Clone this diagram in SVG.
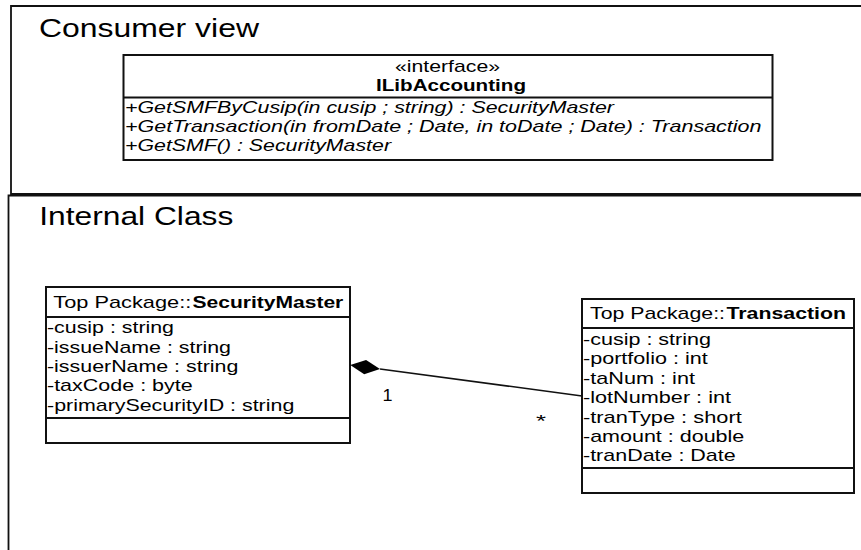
<svg xmlns="http://www.w3.org/2000/svg" width="861" height="550" viewBox="0 0 861 550">
  <style>
    .frame { fill: none; stroke: #111; stroke-width: 1.8; }
    .box { fill: #fff; stroke: #111; stroke-width: 2; }
    .div { stroke: #111; stroke-width: 2; }
    text { font-family: "Liberation Sans", Arial, sans-serif; fill: #000; }
    .title { font-size: 25.5px; }
    .hdr { font-size: 17px; }
    .attr { font-size: 17px; }
    .op { font-size: 16.5px; font-style: italic; }
    .b { font-weight: bold; }
    .mult { font-size: 16.5px; }
    .conn { fill: none; stroke: #111; stroke-width: 1.5; }
  </style>
  <defs>
    <!-- filled diamond for composition end -->
    <marker id="composite" markerUnits="userSpaceOnUse" markerWidth="31" markerHeight="17" viewBox="0 0 31 17" refX="0.5" refY="8" orient="auto">
      <path d="M0.5,8 L15.5,0.8 L30.5,8 L15.5,15.2 Z" fill="#000"/>
    </marker>
  </defs>

  <!-- package frames -->
  <g id="consumer-view">
    <path class="frame" d="M870,6 H11 V194 H870"/>
    <text class="title" x="39" y="36.5" textLength="220" lengthAdjust="spacingAndGlyphs">Consumer view</text>
  </g>
  <g id="internal-class">
    <path class="frame" d="M870,195.5 H8.5 V560"/>
    <text class="title" x="39.3" y="225" textLength="194" lengthAdjust="spacingAndGlyphs">Internal Class</text>
  </g>

  <!-- interface -->
  <g id="ILibAccounting">
    <rect class="box" x="123.5" y="55" width="649" height="105"/>
    <line class="div" x1="123.5" y1="97.5" x2="772.5" y2="97.5"/>
    <text class="hdr" x="395" y="72" textLength="105" lengthAdjust="spacingAndGlyphs">«interface»</text>
    <text class="hdr b" x="376" y="90.5" textLength="150" lengthAdjust="spacingAndGlyphs">ILibAccounting</text>
    <text class="op" x="125" y="112.5" textLength="489" lengthAdjust="spacingAndGlyphs">+GetSMFByCusip(in cusip ; string) : SecurityMaster</text>
    <text class="op" x="125" y="131.5" textLength="636.5" lengthAdjust="spacingAndGlyphs">+GetTransaction(in fromDate ; Date, in toDate ; Date) : Transaction</text>
    <text class="op" x="125" y="150.5" textLength="266" lengthAdjust="spacingAndGlyphs">+GetSMF() : SecurityMaster</text>
  </g>

  <!-- SecurityMaster class -->
  <g id="SecurityMaster">
    <rect class="box" x="46" y="287" width="304" height="156"/>
    <line class="div" x1="46" y1="317" x2="350" y2="317"/>
    <line class="div" x1="46" y1="418" x2="350" y2="418"/>
    <text class="hdr" x="53.3" y="307.5" textLength="138" lengthAdjust="spacingAndGlyphs">Top Package::</text>
    <text class="hdr b" x="192.5" y="307.5" textLength="150.8" lengthAdjust="spacingAndGlyphs">SecurityMaster</text>
    <text class="attr" x="47" y="332.7" textLength="127" lengthAdjust="spacingAndGlyphs">-cusip : string</text>
    <text class="attr" x="47" y="352.7" textLength="184" lengthAdjust="spacingAndGlyphs">-issueName : string</text>
    <text class="attr" x="47" y="372" textLength="191.3" lengthAdjust="spacingAndGlyphs">-issuerName : string</text>
    <text class="attr" x="47" y="391.3" textLength="145.7" lengthAdjust="spacingAndGlyphs">-taxCode : byte</text>
    <text class="attr" x="47" y="410.7" textLength="247.3" lengthAdjust="spacingAndGlyphs">-primarySecurityID : string</text>
  </g>

  <!-- Transaction class -->
  <g id="Transaction">
    <rect class="box" x="582" y="299" width="272" height="194"/>
    <line class="div" x1="582" y1="328" x2="854" y2="328"/>
    <line class="div" x1="582" y1="468" x2="854" y2="468"/>
    <text class="hdr" x="590" y="319" textLength="135" lengthAdjust="spacingAndGlyphs">Top Package::</text>
    <text class="hdr b" x="726.5" y="319" textLength="119.5" lengthAdjust="spacingAndGlyphs">Transaction</text>
    <text class="attr" x="583" y="345" textLength="128" lengthAdjust="spacingAndGlyphs">-cusip : string</text>
    <text class="attr" x="583" y="364.3" textLength="124.7" lengthAdjust="spacingAndGlyphs">-portfolio : int</text>
    <text class="attr" x="583" y="384" textLength="112" lengthAdjust="spacingAndGlyphs">-taNum : int</text>
    <text class="attr" x="583" y="403.3" textLength="148" lengthAdjust="spacingAndGlyphs">-lotNumber : int</text>
    <text class="attr" x="583" y="422.7" textLength="158.7" lengthAdjust="spacingAndGlyphs">-tranType : short</text>
    <text class="attr" x="583" y="441.7" textLength="161.3" lengthAdjust="spacingAndGlyphs">-amount : double</text>
    <text class="attr" x="583" y="460.7" textLength="152.7" lengthAdjust="spacingAndGlyphs">-tranDate : Date</text>
  </g>

  <!-- composition: SecurityMaster 1 <>—— * Transaction -->
  <g id="connectors">
    <path class="conn" d="M582,396 L380,369" marker-end="url(#composite)"/>
    <text class="mult" x="382.5" y="401" textLength="10" lengthAdjust="spacingAndGlyphs">1</text>
    <text class="mult" x="536" y="426.5" textLength="10" lengthAdjust="spacingAndGlyphs">*</text>
  </g>
</svg>
